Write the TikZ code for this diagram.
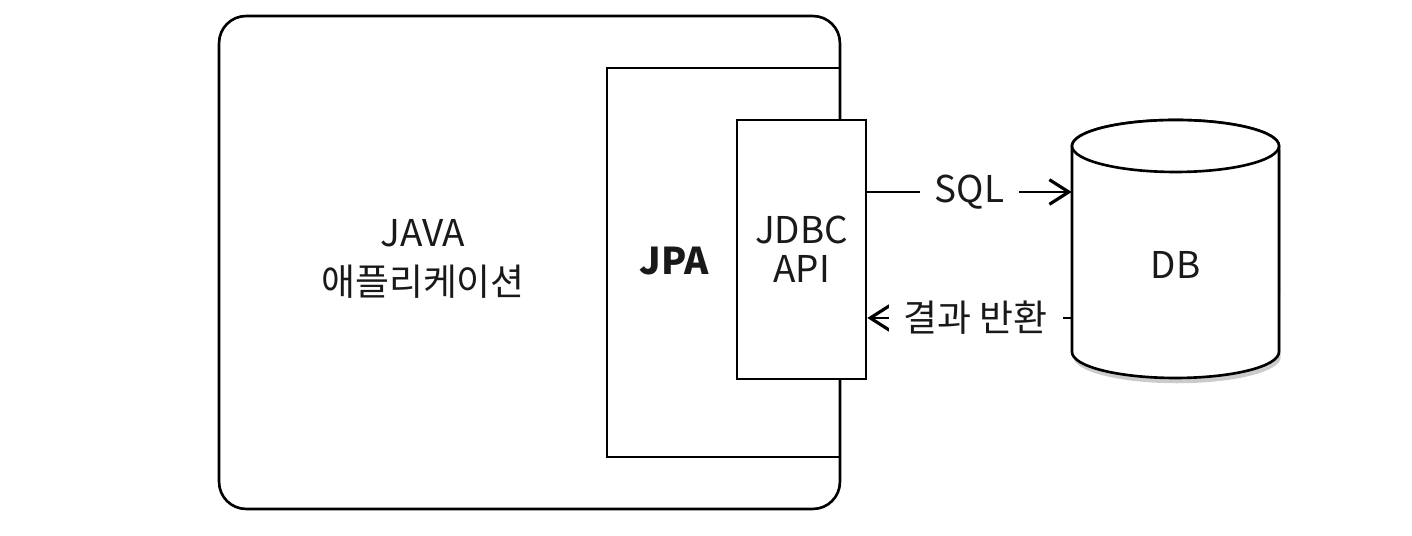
\documentclass[tikz,border=0pt]{standalone}
\usepackage{fontspec}
\setmainfont{Noto Sans CJK KR}
\usetikzlibrary{arrows.meta,shadows}

\begin{document}
\begin{tikzpicture}[
   x=0.02cm,y=0.02cm,
   font=\fontsize{21}{22}\selectfont,
   box/.style={draw,line width=1.5pt,inner sep=0pt},
   flow/.style={-{Straight Barb[length=11pt,width=14pt,line width=1.8pt]},line width=1.5pt},
   lbl/.style={fill=white,inner xsep=0.3cm,inner ysep=2pt},
   cyl/.style={draw,line width=1.5pt,fill=white},
   every node/.style={text=black!90}]
\useasboundingbox (0,0) rectangle (1412,536);
\node[box,rounded corners=0.54cm,minimum width=12.42cm,minimum height=9.86cm] (APP) at (529.5,273.5) {};
\node[box,minimum width=4.66cm,minimum height=7.78cm] (JPA) at (723.5,273.5) {};
\node[box,fill=white,minimum width=2.58cm,minimum height=5.18cm,align=center] (JDBC) at (801.5,286.5) {JDBC\\API};
\node[align=center,font=\fontsize{21}{28}\selectfont] (APPtext) at (423,277) {JAVA\\애플리케이션};
\node[font=\fontsize{21}{22}\selectfont\bfseries] (JPAtext) at (674,275) {JPA};
\draw[cyl,drop shadow={shadow xshift=1pt,shadow yshift=-3pt,fill=black!45,opacity=0.45}]
   (1072,390) -- (1072,184) arc[start angle=180,end angle=360,x radius=2.07cm,y radius=0.52cm]
   -- (1279,390) arc[start angle=0,end angle=180,x radius=2.07cm,y radius=0.52cm] -- cycle;
\draw[cyl] (1175.5,390) ellipse[x radius=2.07cm,y radius=0.52cm];
\node[minimum width=4.14cm,inner sep=0pt] (DB) at (1175.5,271.5) {DB};
\draw[flow] (JDBC.east |- 0,344) -- node[lbl] {SQL} (DB.west |- 0,344);
\draw[flow] (DB.west |- 0,218) -- node[lbl,pos=0.47] {결과 반환} (JDBC.east |- 0,218);
\end{tikzpicture}
\end{document}
